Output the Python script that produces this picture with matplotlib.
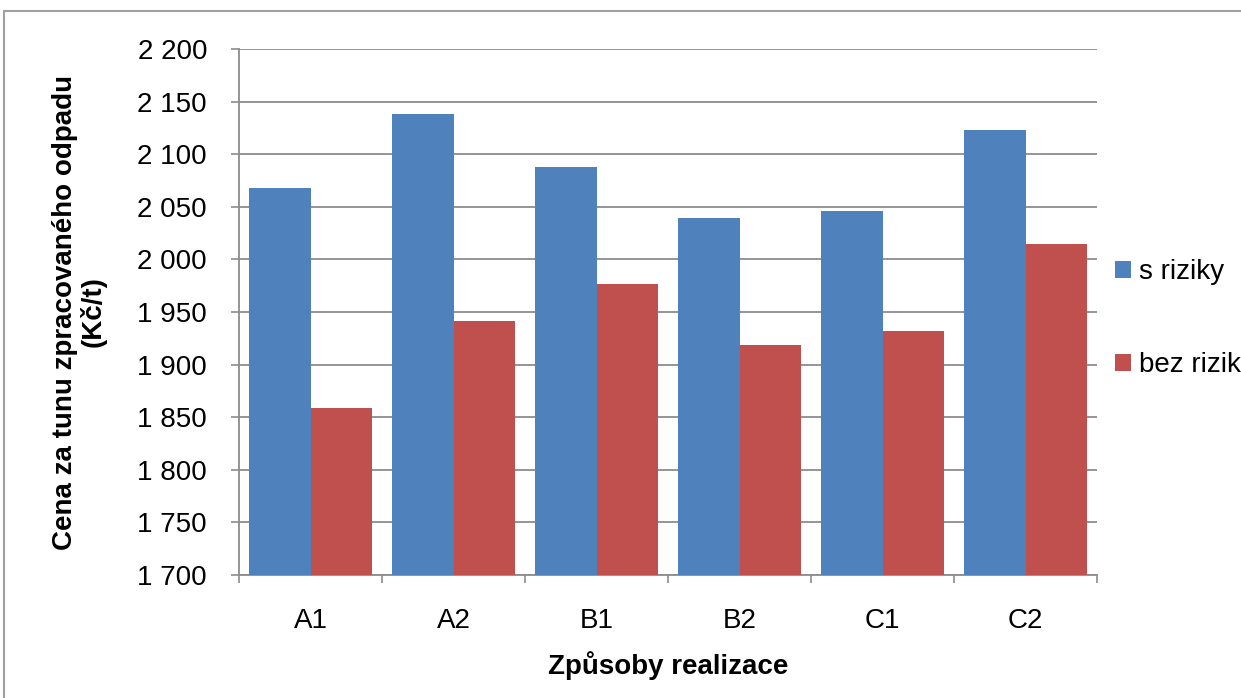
import numpy as np
import matplotlib.pyplot as plt
from matplotlib.patches import Rectangle
from matplotlib.ticker import FuncFormatter

plt.rcParams['font.family'] = ['Liberation Sans', 'DejaVu Sans']

zpusoby = ["A1", "A2", "B1", "B2", "C1", "C2"]
s_riziky = [2068, 2138, 2088, 2039, 2046, 2123]
bez_rizik = [1859, 1941, 1977, 1919, 1932, 2015]

modra = "#4f81bd"
cervena = "#c0504d"
seda = "#8c8c8c"
fs = 20

fig = plt.figure(figsize=(12.41, 6.98), dpi=100)
ax = fig.add_axes([239 / 1241, 1 - 575 / 698, 858 / 1241, 526 / 698])

# chart frame
fig.patches.append(Rectangle((4 / 1241, -0.1), 1.2, 1 - 11 / 698 + 0.1,
                             transform=fig.transFigure, fill=False,
                             edgecolor="#a0a0a0", linewidth=1.5))

x = np.arange(len(zpusoby))
w = 0.43
zaklad = 1700
ax.bar(x - w / 2, np.array(s_riziky) - zaklad, w, bottom=zaklad,
       color=modra, label="s riziky", zorder=3)
ax.bar(x + w / 2, np.array(bez_rizik) - zaklad, w, bottom=zaklad,
       color=cervena, label="bez rizik", zorder=3)

ax.set_xlim(-0.5, len(zpusoby) - 0.5)
ax.set_ylim(1700, 2200)
ax.set_yticks(np.arange(1700, 2201, 50))
ax.yaxis.set_major_formatter(FuncFormatter(
    lambda v, p: f"{int(v):,}".replace(",", " ")))
ax.yaxis.grid(True, color=seda, linewidth=1.3, zorder=0)

ax.set_xticks(x)
ax.set_xticklabels(zpusoby)
ax.set_xticks(np.arange(-0.5, len(zpusoby)), minor=True)
ax.tick_params(axis="x", which="major", length=0, pad=24, labelsize=fs)
ax.tick_params(axis="x", which="minor", length=6, color=seda, width=1.2)
ax.tick_params(axis="y", length=6, color=seda, width=1.2, pad=17, labelsize=fs)

for s in ["top", "right"]:
    ax.spines[s].set_visible(False)
ax.spines["left"].set_color(seda)
ax.spines["bottom"].set_color(seda)
ax.spines["left"].set_linewidth(1.3)
ax.spines["bottom"].set_linewidth(1.3)

ax.set_xlabel("Způsoby realizace", fontsize=fs, fontweight="bold", labelpad=12)
ax.set_ylabel("Cena za tunu zpracovaného odpadu\n(Kč/t)", fontsize=fs,
              fontweight="bold", labelpad=22, linespacing=1.1)

ax.legend(loc="upper left", bbox_to_anchor=(1.021, 0.60), frameon=False,
          fontsize=fs, handlelength=0.58, handleheight=0.58, handletextpad=0.3,
          labelspacing=2.4, borderpad=0, borderaxespad=0)

fig.savefig("out.png", dpi=100)
